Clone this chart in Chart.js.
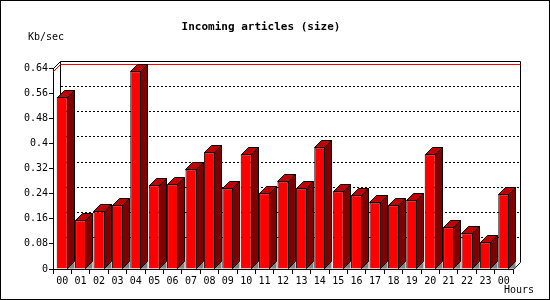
<!DOCTYPE html>
<html>
<head>
<meta charset="utf-8">
<script src="https://cdn.jsdelivr.net/npm/chart.js@4/dist/chart.umd.min.js"></script>
<style>
  html, body { margin: 0; padding: 0; background: #fff; }
  #wrap { width: 550px; height: 300px; }
</style>
</head>
<body>
<div id="wrap"><canvas id="grafico"></canvas></div>
<script>
// datos
const horas = ['00','01','02','03','04','05','06','07','08','09','10','11','12',
               '13','14','15','16','17','18','19','20','21','22','23','00'];
const kbSec = [0.548, 0.155, 0.184, 0.203, 0.630, 0.267, 0.270, 0.317, 0.372, 0.257,
               0.365, 0.241, 0.279, 0.257, 0.387, 0.247, 0.235, 0.212, 0.203, 0.219,
               0.365, 0.133, 0.114, 0.085, 0.238];
const etiquetasY = ['0','0.08','0.16','0.24','0.32','0.4','0.48','0.56','0.64'];
const titulo = 'Incoming articles (size)';
const tituloY = 'Kb/sec';
const tituloX = 'Hours';

const PROF = 7; // profundidad del efecto 3D

Chart.defaults.font.family = "'DejaVu Sans Mono', monospace";
Chart.defaults.font.size = 10;
Chart.defaults.color = '#000';

const fondo3d = {
    id: 'fondo3d',
    beforeDatasetsDraw(chart) {
        const { ctx, chartArea: a, scales } = chart;
        const d = PROF;
        ctx.save();
        ctx.lineWidth = 1;
        // lineas punteadas en el plano de fondo
        ctx.strokeStyle = '#000';
        ctx.setLineDash([2, 2]);
        etiquetasY.forEach((t, i) => {
            if (i === 0 || i === etiquetasY.length - 1) return;
            const y = Math.round(scales.y.getPixelForValue(parseFloat(t)) - d) + 0.5;
            ctx.beginPath();
            ctx.moveTo(a.left + d + 1, y);
            ctx.lineTo(a.right + d, y);
            ctx.stroke();
        });
        ctx.setLineDash([]);
        // caja del fondo
        const l = Math.round(a.left) + 0.5, r = Math.round(a.right) + 0.5;
        const t = Math.round(a.top) + 0.5, b = Math.round(a.bottom) + 0.5;
        ctx.beginPath();
        ctx.moveTo(l, t);
        ctx.lineTo(l + d, t - d);
        ctx.lineTo(r + d, t - d);
        ctx.lineTo(r + d, b - d);
        ctx.lineTo(r, b);
        ctx.moveTo(l + d, t - d);
        ctx.lineTo(l + d, b - d);
        ctx.stroke();
        // linea roja del maximo
        const ym = Math.round(scales.y.getPixelForValue(Math.max(...kbSec))) + 0.5;
        ctx.strokeStyle = '#ff0000';
        ctx.beginPath();
        ctx.moveTo(l, ym);
        ctx.lineTo(l + d, ym - d);
        ctx.lineTo(r + d, ym - d);
        ctx.stroke();
        ctx.restore();
    },
    afterDatasetsDraw(chart) {
        const { ctx } = chart;
        const d = PROF;
        const meta = chart.getDatasetMeta(0);
        ctx.save();
        ctx.lineWidth = 1;
        ctx.strokeStyle = '#000';
        meta.data.forEach(bar => {
            const p = bar.getProps(['x', 'y', 'base', 'width'], true);
            const L = Math.round(p.x - p.width / 2) + 0.5;
            const R = Math.round(p.x + p.width / 2) - 0.5;
            const y = Math.round(p.y) + 0.5;
            const b = Math.round(p.base) - 0.5;
            // sombra gris en el suelo
            ctx.fillStyle = '#808080';
            ctx.beginPath();
            ctx.moveTo(R, b); ctx.lineTo(R + d, b - d); ctx.lineTo(R + d, b); ctx.closePath();
            ctx.fill();
            // cara superior
            ctx.fillStyle = '#c00000';
            ctx.beginPath();
            ctx.moveTo(L, y); ctx.lineTo(L + d, y - d); ctx.lineTo(R + d, y - d); ctx.lineTo(R, y); ctx.closePath();
            ctx.fill(); ctx.stroke();
            // cara lateral
            ctx.fillStyle = '#800000';
            ctx.beginPath();
            ctx.moveTo(R, y); ctx.lineTo(R + d, y - d); ctx.lineTo(R + d, b - d); ctx.lineTo(R, b); ctx.closePath();
            ctx.fill(); ctx.stroke();
        });
        ctx.restore();
    },
    afterDraw(chart) {
        const { ctx } = chart;
        ctx.save();
        ctx.fillStyle = '#000';
        ctx.textBaseline = 'middle';
        ctx.font = "bold 11px 'DejaVu Sans Mono', monospace";
        ctx.textAlign = 'center';
        ctx.fillText(titulo, 261, 27);
        ctx.font = "10px 'DejaVu Sans Mono', monospace";
        ctx.textAlign = 'left';
        ctx.fillText(tituloY, 28, 37);
        ctx.fillText(tituloX, 504, 290);
        // marco exterior
        ctx.strokeStyle = '#000';
        ctx.lineWidth = 1;
        ctx.strokeRect(0.5, 0.5, chart.width - 1, chart.height - 1);
        ctx.restore();
    }
};

new Chart(document.getElementById('grafico'), {
    type: 'bar',
    data: {
        labels: horas,
        datasets: [{
            data: kbSec,
            backgroundColor: '#ff0000',
            borderColor: '#000',
            borderWidth: 1,
            barPercentage: 0.6,
            categoryPercentage: 1
        }]
    },
    options: {
        responsive: true,
        maintainAspectRatio: false,
        animation: false,
        layout: { padding: { top: 68, right: 37, left: 0, bottom: 0 } },
        plugins: {
            legend: { display: false },
            tooltip: { enabled: false },
            title: { display: false }
        },
        scales: {
            x: {
                grid: { display: true, drawOnChartArea: false, offset: true, tickLength: 5, color: '#000' },
                border: { display: true, color: '#000' },
                ticks: { padding: 1, maxRotation: 0, autoSkip: false },
                afterFit(s) { s.height = 31; }
            },
            y: {
                min: 0,
                max: 0.64,
                grid: { display: true, drawOnChartArea: false, tickLength: 4, color: '#000' },
                border: { display: true, color: '#000' },
                ticks: {
                    stepSize: 0.08,
                    padding: 1,
                    callback: (v, i) => etiquetasY[i]
                },
                afterFit(s) { s.width = 53; }
            }
        }
    },
    plugins: [fondo3d]
});
</script>
</body>
</html>
